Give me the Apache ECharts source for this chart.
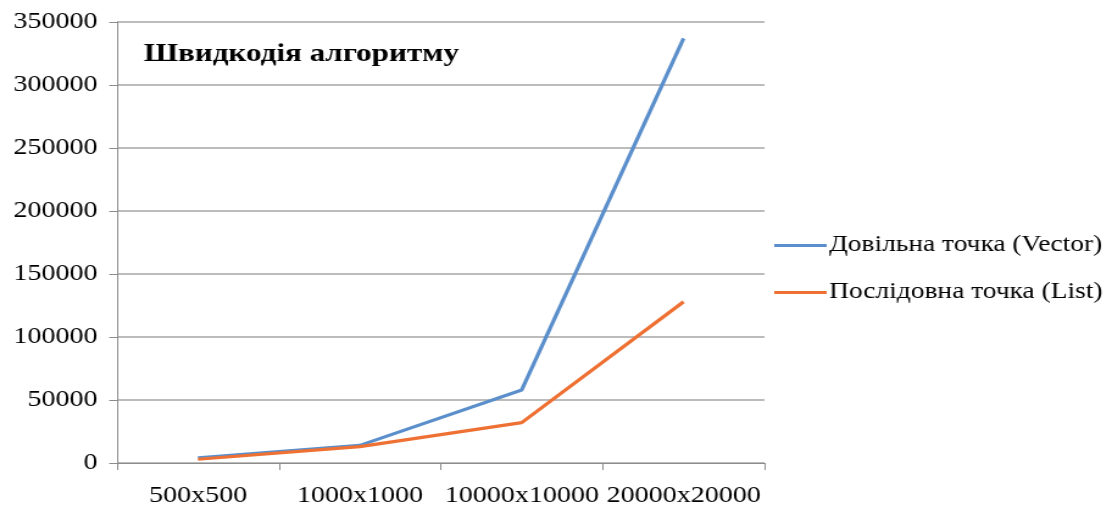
<!DOCTYPE html>
<html>
<head>
<meta charset="utf-8">
<script src="https://cdn.jsdelivr.net/npm/echarts@6/dist/echarts.min.js"></script>
<style>
  html, body { margin: 0; padding: 0; background: #fff; overflow: hidden; }
  /* the chart is laid out narrower and widened horizontally, giving the wide serif lettering */
  #chart { width: 912px; height: 508px; transform: scaleX(1.2193); transform-origin: 0 0; }
</style>
</head>
<body>
<div id="chart"></div>
<script>
const categories = ['500x500', '1000x1000', '10000x10000', '20000x20000'];
const vectorValues = [4000, 14000, 58000, 337000];
const listValues = [3000, 13000, 32000, 128000];
const seriesNames = ['Довільна точка (Vector)', 'Послідовна точка (List)'];
const titleText = 'Швидкодія алгоритму';

const font = 'Liberation Serif, Times New Roman, serif';
const colors = ['#5b8fcb', '#ee7133'];
const chart = echarts.init(document.getElementById('chart'));

chart.setOption({
  backgroundColor: '#ffffff',
  animation: false,
  title: {
    text: titleText,
    left: 113,
    top: 36,
    textStyle: { fontFamily: font, fontSize: 25.5, fontWeight: 'bold', color: '#000' }
  },
  legend: {
    orient: 'vertical',
    left: 630,
    top: 229,
    icon: 'rect',
    itemWidth: 43,
    itemHeight: 3,
    itemGap: 24,
    textStyle: { fontFamily: font, fontSize: 22.5, color: '#000', padding: [0, 0, 0, -3] },
    data: seriesNames
  },
  grid: { left: 96, right: 285, top: 22, bottom: 45, containLabel: false },
  xAxis: {
    type: 'category',
    data: categories,
    boundaryGap: true,
    axisLine: { lineStyle: { color: '#8c8c8c', width: 1 } },
    axisTick: { show: true, length: 7, interval: 0, lineStyle: { color: '#8c8c8c' } },
    axisLabel: { fontFamily: font, fontSize: 23, color: '#000', margin: 21, interval: 0 }
  },
  yAxis: {
    type: 'value',
    min: 0,
    max: 350000,
    interval: 50000,
    axisLine: { show: true, lineStyle: { color: '#8c8c8c', width: 1 } },
    axisTick: { show: true, length: 6.5, lineStyle: { color: '#8c8c8c' } },
    axisLabel: {
      fontFamily: font, fontSize: 23, color: '#000', margin: 16,
      formatter: v => String(v)
    },
    splitLine: { lineStyle: { color: '#a6a6a6', width: 1.5 } }
  },
  series: [
    {
      name: seriesNames[0],
      type: 'line',
      data: vectorValues,
      symbol: 'none',
      lineStyle: { color: colors[0], width: 3.2 },
      itemStyle: { color: colors[0] }
    },
    {
      name: seriesNames[1],
      type: 'line',
      data: listValues,
      symbol: 'none',
      lineStyle: { color: colors[1], width: 3.2 },
      itemStyle: { color: colors[1] }
    }
  ]
});
</script>
</body>
</html>
